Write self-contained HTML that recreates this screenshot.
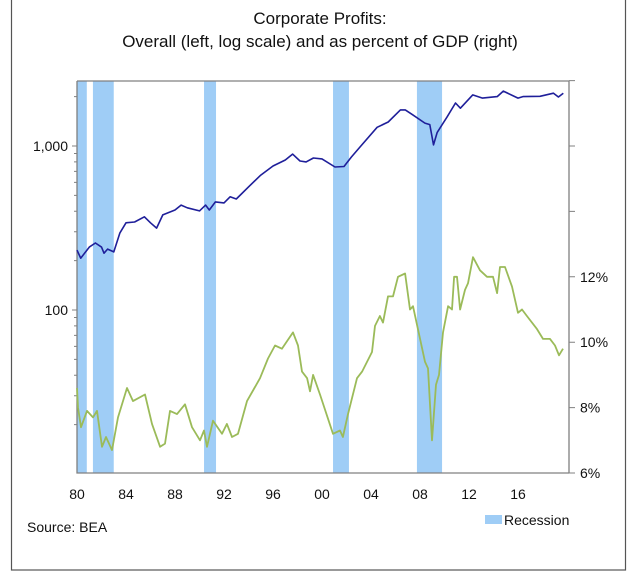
<!DOCTYPE html>
<html><head><meta charset="utf-8"><style>
html,body{margin:0;padding:0;background:#fff;}
svg{display:block;font-family:"Liberation Sans",Arial,sans-serif;}
</style></head><body>
<svg id="chart" width="640" height="580" viewBox="0 0 640 580">
<rect x="11.5" y="-2" width="614" height="572" fill="#fff" stroke="#555" stroke-width="1.2"/>
<text x="320" y="24" text-anchor="middle" font-size="17" fill="#111">Corporate Profits:</text>
<text x="320" y="47" text-anchor="middle" font-size="17" fill="#111">Overall (left, log scale) and as percent of GDP (right)</text>
<g id="rec"></g>
<g id="axes"></g>
<g id="lines"></g>
<text x="27" y="532" font-size="14" fill="#111">Source: BEA</text>
<rect x="485" y="515" width="17" height="9" fill="#9fcdf6"/>
<text x="504" y="525" font-size="14" fill="#111">Recession</text>
</svg>
<script>
const recStart=[1980.0,1981.3,1990.37,2000.9,2007.75];
const recEnd=[1980.8,1983.0,1991.35,2002.2,2009.8];
const xTickYears=[1980,1984,1988,1992,1996,2000,2004,2008,2012,2016];
const xTickLabels=["80","84","88","92","96","00","04","08","12","16"];
const leftTickVals=[100,1000];
const leftTickLabels=["100","1,000"];
const rightTickVals=[6,8,10,12,14,16,18];
const rightTickLabels=["6%","8%","10%","12%","","",""];
const profitYears=[1980.0,1980.3,1981.0,1981.5,1982.0,1982.2,1982.5,1983.0,1983.5,1984.0,1984.7,1985.5,1986.0,1986.5,1987.0,1988.0,1988.5,1989.0,1990.0,1990.5,1990.8,1991.3,1992.0,1992.5,1993.0,1994.0,1995.0,1996.0,1997.0,1997.6,1998.2,1998.7,1999.3,2000.0,2001.06,2001.8,2002.4,2003.1,2004.5,2005.4,2006.4,2006.8,2007.4,2008.4,2008.8,2009.1,2009.4,2010.2,2010.9,2011.3,2012.3,2013.1,2014.3,2014.8,2016.0,2016.4,2017.8,2018.9,2019.3,2019.7];
const profitVals=[232,207,242,256,242,222,235,226,295,340,344,370,340,316,380,407,436,420,402,436,407,456,450,490,475,563,665,755,822,893,810,800,845,834,745,750,857,986,1300,1400,1660,1660,1550,1380,1350,1015,1210,1500,1830,1700,2050,1960,2000,2160,1960,2000,2010,2100,1990,2100];
const pctYears=[1980.0,1980.08,1980.33,1980.82,1981.31,1981.63,1982.04,1982.37,1982.86,1983.35,1984.08,1984.57,1985.55,1986.12,1986.78,1987.18,1987.59,1988.16,1988.82,1989.39,1990.04,1990.37,1990.61,1991.1,1991.84,1992.24,1992.65,1993.14,1993.88,1994.94,1995.59,1996.16,1996.73,1997.63,1998.04,1998.37,1998.78,1999.02,1999.27,1999.84,2000.9,2001.47,2001.71,2002.12,2002.86,2003.27,2004.08,2004.33,2004.73,2004.98,2005.39,2005.8,2006.2,2006.78,2007.18,2007.43,2008.41,2008.65,2008.98,2009.31,2009.55,2009.88,2010.29,2010.61,2010.78,2011.02,2011.27,2011.67,2011.92,2012.33,2012.9,2013.47,2013.96,2014.29,2014.53,2014.94,2015.51,2016.0,2016.33,2016.73,2017.55,2018.04,2018.61,2019.02,2019.35,2019.67];
const pctVals=[8.6,8.0,7.4,7.9,7.7,7.9,6.8,7.1,6.7,7.7,8.6,8.2,8.4,7.5,6.8,6.9,7.9,7.8,8.1,7.4,7.0,7.3,6.8,7.6,7.2,7.5,7.1,7.2,8.2,8.9,9.5,9.9,9.8,10.3,9.9,9.1,8.9,8.5,9.0,8.4,7.2,7.3,7.1,7.8,8.9,9.1,9.7,10.5,10.8,10.6,11.4,11.4,12.0,12.1,11.0,11.1,9.4,9.2,7.0,8.7,9.0,10.3,11.1,11.0,12.0,12.0,11.0,11.6,11.8,12.6,12.2,12.0,12.0,11.5,12.3,12.3,11.7,10.9,11.0,10.8,10.4,10.1,10.1,9.9,9.6,9.8];

const L=77,R=569,T=81,B=473;
const X=y=>L+(y-1980)*12.25;
const YL=v=>146-(Math.log10(v)-3)*164;
const YR=p=>B-(p-6)*32.7;
const NS="http://www.w3.org/2000/svg";
function mk(tag,attrs,parent){const e=document.createElementNS(NS,tag);for(const k in attrs)e.setAttribute(k,attrs[k]);parent.appendChild(e);return e;}
const rec=document.getElementById('rec'),axes=document.getElementById('axes'),lines=document.getElementById('lines');
for(let i=0;i<recStart.length;i++){
  const r=mk('rect',{x:X(recStart[i]),y:T,width:X(recEnd[i])-X(recStart[i]),height:B-T,fill:'#9fcdf6'},rec);
  
  
}
const ax=mk('path',{d:`M${L},${T}L${R},${T}M${L},${T}L${L},${B}L${R},${B}M${R},${T}L${R},${B}`,stroke:'#808080','stroke-width':1.3,fill:'none'},axes);


let d='';
for(let dec=10;dec<=1000;dec*=10){for(let m=1;m<10;m++){const v=dec*m;if(v<10.2||v>2490)continue;const y=YL(v);d+=`M${L-(m===1?5:3)},${y}L${L},${y}`;}}
const lt=mk('path',{d:d,stroke:'#808080','stroke-width':1},axes);


leftTickVals.forEach((v,i)=>{
  const t=mk('text',{x:L-9,y:YL(v)+5,'text-anchor':'end','font-size':14,fill:'#111'},axes);
  t.textContent=leftTickLabels[i];
  
  
});
let d2='';
rightTickVals.forEach((p,i)=>{const y=YR(p);d2+=`M${R},${y}L${R+6},${y}`;
  if(rightTickLabels[i]){const t=mk('text',{x:R+11,y:y+5,'font-size':14,fill:'#111'},axes);t.textContent=rightTickLabels[i];
  
  }
});
const rt=mk('path',{d:d2,stroke:'#808080','stroke-width':1},axes);


xTickYears.forEach((yr,i)=>{
  const t=mk('text',{x:X(yr),y:499,'text-anchor':'middle','font-size':14,fill:'#111'},axes);
  t.textContent=xTickLabels[i];
  
  
});
const pd=profitYears.map((y,i)=>(i?'L':'M')+X(y).toFixed(1)+','+YL(profitVals[i]).toFixed(1)).join('');
const pl=mk('path',{d:pd,stroke:'#1f1f9a','stroke-width':1.6,fill:'none','stroke-linejoin':'round'},lines);


const gd=pctYears.map((y,i)=>(i?'L':'M')+X(y).toFixed(1)+','+YR(pctVals[i]).toFixed(1)).join('');
const gl=mk('path',{d:gd,stroke:'#9bbb59','stroke-width':1.8,fill:'none','stroke-linejoin':'round'},lines);


</script>
</body></html>
